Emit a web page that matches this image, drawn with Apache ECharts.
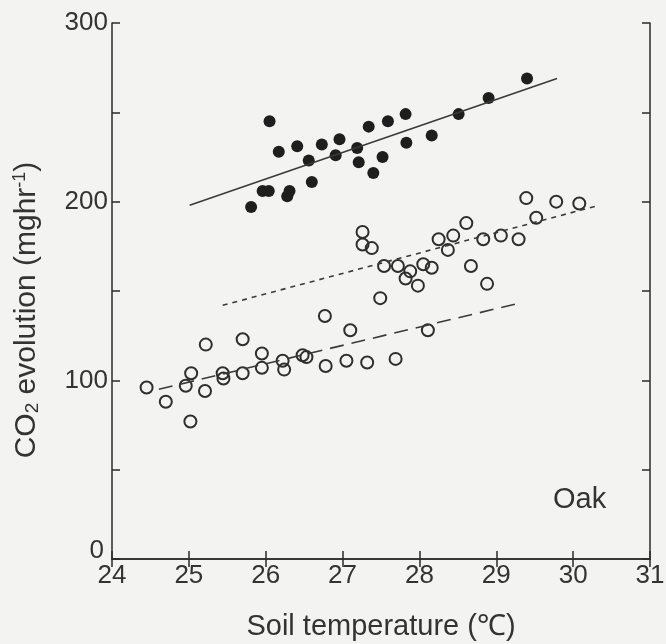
<!DOCTYPE html>
<html>
<head>
<meta charset="utf-8">
<script src="https://cdn.jsdelivr.net/npm/echarts@6/dist/echarts.min.js"></script>
<style>
  html, body { margin: 0; padding: 0; background: #f3f3f2; }
  #chart { width: 666px; height: 644px; }
</style>
</head>
<body>
<div id="chart"></div>
<script>
// filled circles
var filledTemp = [25.81, 25.96, 26.04, 26.05, 26.17, 26.28, 26.31, 26.41, 26.56, 26.60, 26.73, 26.91, 26.96,
  27.19, 27.21, 27.34, 27.40, 27.52, 27.59, 27.82, 27.83, 28.16, 28.51, 28.90, 29.40];
var filledCO2 = [197, 206, 206, 245, 228, 203, 206, 231, 223, 211, 232, 226, 235,
  230, 222, 242, 216, 225, 245, 249, 233, 237, 249, 258, 269];

// open circles (lower + middle groups)
var openTemp = [24.45, 24.70, 24.96, 25.03, 25.02, 25.21, 25.22, 25.44, 25.45, 25.70, 25.70, 25.95, 25.95,
  26.22, 26.24, 26.48, 26.53, 26.77, 26.78, 27.05, 27.10, 27.32, 27.69, 28.11, 27.49,
  27.26, 27.26, 27.38, 27.54, 27.72, 27.88, 27.82, 28.05, 28.16, 27.98, 28.25, 28.44, 28.37,
  28.61, 28.83, 28.67, 28.88, 29.06, 29.29, 29.52, 29.39, 29.78, 30.08];
var openCO2 = [96, 88, 97, 104, 77, 94, 120, 104, 101, 104, 123, 115, 107,
  111, 106, 114, 113, 136, 108, 111, 128, 110, 112, 128, 146,
  183, 176, 174, 164, 164, 161, 157, 165, 163, 153, 179, 181, 173,
  188, 179, 164, 154, 181, 179, 191, 202, 200, 199];

// regression lines (end points)
var solidX = [25.01, 29.79], solidY = [198, 269];
var dottedX = [25.44, 30.34], dottedY = [142, 198];
var dashedX = [24.61, 29.33], dashedY = [95, 143.5];

var ink = "#2b2b2b";
var font = "'Liberation Sans', Arial, sans-serif";

function pairs(xs, ys) {
  return xs.map(function (x, i) { return [x, ys[i]]; });
}

var chart = echarts.init(document.getElementById("chart"));

var axisLine = { show: true, lineStyle: { color: ink, width: 1.5 } };
var axisTick = { show: true, inside: true, length: 8, lineStyle: { color: ink, width: 1.5 } };

chart.setOption({
  backgroundColor: "#f3f3f2",
  animation: false,
  grid: { left: 112, right: 16, top: 23, bottom: 85, containLabel: false, outerBoundsMode: "none" },
  xAxis: [
    {
      type: "value", min: 24, max: 31, interval: 1, position: "bottom",
      axisLine: axisLine, axisTick: axisTick, splitLine: { show: false },
      axisLabel: { fontFamily: font, fontSize: 26, color: "#333", margin: 4 },
      name: "Soil temperature (℃)", nameLocation: "middle", nameGap: 53,
      nameTextStyle: { fontFamily: font, fontSize: 29, color: "#333" }
    },
    {
      type: "value", min: 24, max: 31, interval: 1, position: "top",
      axisLine: axisLine, axisTick: axisTick, splitLine: { show: false },
      axisLabel: { show: false }
    }
  ],
  yAxis: [
    {
      type: "value", min: 0, max: 300, interval: 50, position: "left",
      axisLine: axisLine, axisTick: axisTick, splitLine: { show: false },
      axisLabel: {
        fontFamily: font, fontSize: 26, color: "#333", margin: 4,
        formatter: function (v) {
          if (v === 0) return "{z|0}";
          return v % 100 === 0 ? String(v) : "";
        },
        rich: { z: { fontFamily: font, fontSize: 26, color: "#333", padding: [0, 4, 16, 0] } }
      }
    },
    {
      type: "value", min: 0, max: 300, interval: 50, position: "right",
      axisLine: axisLine, axisTick: axisTick, splitLine: { show: false },
      axisLabel: { show: false }
    }
  ],
  graphic: [
    {
      type: "text", x: 27, y: 310, rotation: Math.PI / 2,
      style: {
        text: "CO{sub|2} evolution (mghr{sup|-1})",
        fontFamily: font, fontSize: 30, fill: "#333",
        align: "center", verticalAlign: "middle",
        rich: {
          sub: { fontFamily: font, fontSize: 19, fill: "#333", verticalAlign: "bottom", padding: [12, 0, 0, 0] },
          sup: { fontFamily: font, fontSize: 18, fill: "#333", verticalAlign: "top", padding: [0, 0, 12, 0] }
        }
      }
    },
    {
      type: "text", left: 553, top: 485,
      style: { text: "Oak", fontFamily: font, fontSize: 29, fill: "#333" }
    }
  ],
  series: [
    {
      type: "line", data: pairs(solidX, solidY), showSymbol: false, silent: true,
      lineStyle: { color: "#3a3a3a", width: 1.6, type: "solid" }
    },
    {
      type: "line", data: pairs(dottedX, dottedY), showSymbol: false, silent: true,
      lineStyle: { color: "#3a3a3a", width: 1.6, type: [5, 5] }
    },
    {
      type: "line", data: pairs(dashedX, dashedY), showSymbol: false, silent: true,
      lineStyle: { color: "#3a3a3a", width: 1.6, type: [14, 8] }
    },
    {
      type: "scatter", data: pairs(filledTemp, filledCO2), symbol: "circle", symbolSize: 12,
      itemStyle: { color: "#1e1e1e", opacity: 1 }
    },
    {
      type: "scatter", data: pairs(openTemp, openCO2), symbol: "circle", symbolSize: 12,
      itemStyle: { color: "rgba(0,0,0,0)", borderColor: "#2e2e2e", borderWidth: 2, opacity: 1 }
    }
  ]
});
</script>
</body>
</html>
